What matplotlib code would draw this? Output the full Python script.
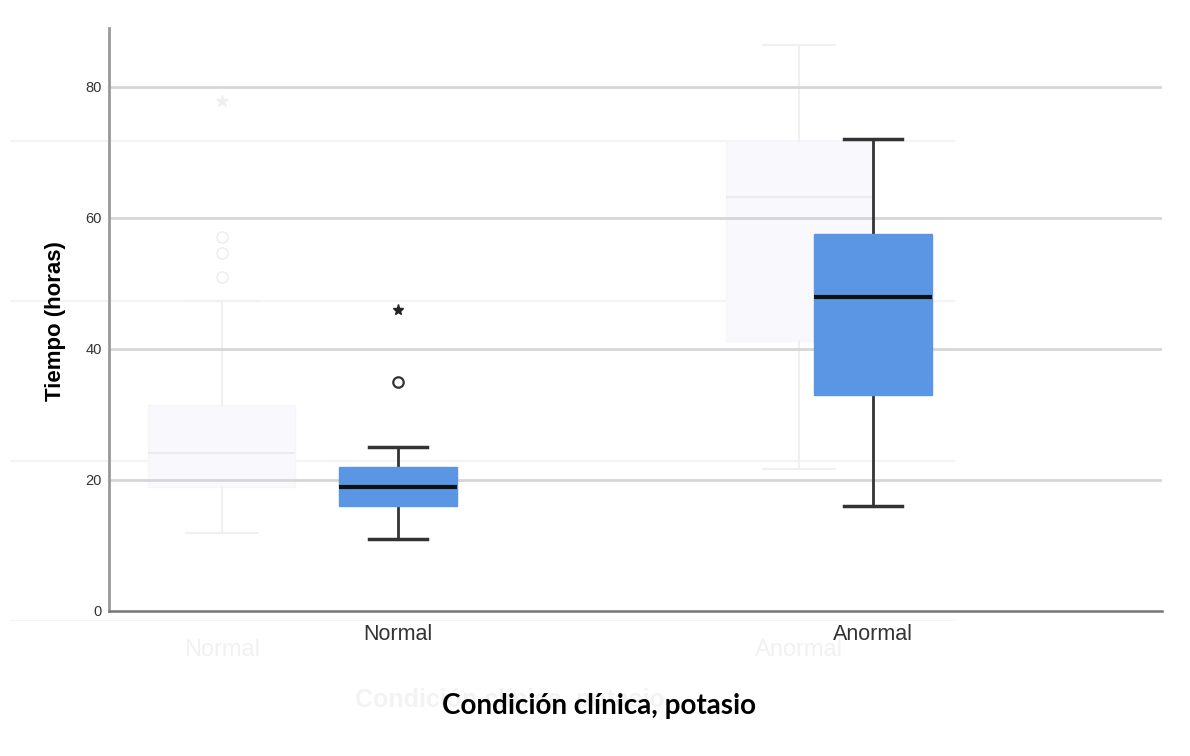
import matplotlib
matplotlib.use("Agg")
import matplotlib.pyplot as plt

# --- data ---
groups = ["Normal", "Anormal"]
whis_lo = [11, 16]
q1 = [16, 33]
median = [19, 48]
q3 = [22, 57.5]
whis_hi = [25, 72]
outliers = [[35], []]        # circles
extremes = [[46], []]        # stars
yticks = [0, 20, 40, 60, 80]

# faint ghost chart left behind in the screenshot
ghost_whis_lo = [11, 19]
ghost_q1 = [16.8, 35]
ghost_median = [21, 53]
ghost_q3 = [27, 60]
ghost_whis_hi = [40, 72]
ghost_outliers = [[43, 46, 48], []]
ghost_extremes = [[65], []]
ghost_gridvals = [0, 20, 40, 60]

W, H = 1190, 756
fig = plt.figure(figsize=(W / 100, H / 100), dpi=100)


def px_box(l, r, b, t):
    return [l / W, (H - b) / H, (r - l) / W, (b - t) / H]


# ghost axes (very faint, behind everything)
gax = fig.add_axes(px_box(10, 955, 621, 0))
gax.set_facecolor("none")
for s in gax.spines.values():
    s.set_visible(False)
for v in ghost_gridvals:
    gax.axhline(v, color="#f4f4f4", lw=1.5, zorder=0)
gstats = []
for i in range(2):
    gstats.append(dict(med=ghost_median[i], q1=ghost_q1[i], q3=ghost_q3[i],
                       whislo=ghost_whis_lo[i], whishi=ghost_whis_hi[i],
                       fliers=ghost_outliers[i]))
gax.bxp(gstats, positions=[0, 1], widths=0.255, capwidths=0.125, patch_artist=True,
        showfliers=True,
        boxprops=dict(facecolor="#f9f8fc", edgecolor="#f6f5f9", lw=1),
        medianprops=dict(color="#ececf0", lw=1.5),
        whiskerprops=dict(color="#f0f0f0", lw=1.5),
        capprops=dict(color="#f0f0f0", lw=1.5),
        flierprops=dict(marker="o", markerfacecolor="none", markeredgecolor="#eeeeee",
                        markersize=8, markeredgewidth=1.2))
for i, ys in enumerate(ghost_extremes):
    if ys:
        gax.plot([i] * len(ys), ys, "*", color="#efefef", markersize=9)
gax.set_xlim(-0.367, 1.27)
gax.set_ylim(0, 621 / 8)
gax.set_yticks([])
gax.set_xticks([0, 1])
gax.set_xticklabels(groups, fontsize=17, color="#f1f1f1", family="Liberation Sans")
gax.tick_params(axis="x", length=0, pad=13)
fig.text(510 / W, 1 - 700 / H, "Condición clínica, potasio", fontsize=18,
         fontweight="bold", color="#f3f3f3", family="Liberation Sans",
         ha="center", va="center")

# main axes
ax = fig.add_axes(px_box(109, 1162, 611, 28))
ax.set_facecolor("none")

for v in yticks[1:]:
    ax.axhline(v, color="#d6d6d6", lw=2, zorder=1)

stats = []
for i in range(2):
    stats.append(dict(med=median[i], q1=q1[i], q3=q3[i],
                      whislo=whis_lo[i], whishi=whis_hi[i], fliers=outliers[i]))
ax.bxp(stats, positions=[0, 1], widths=0.248, capwidths=0.123, patch_artist=True,
       boxprops=dict(facecolor="#5a96e4", edgecolor="#5a96e4", lw=1, zorder=3),
       medianprops=dict(color="#111111", lw=3, zorder=4),
       whiskerprops=dict(color="#333333", lw=2, zorder=2),
       capprops=dict(color="#333333", lw=2.5, zorder=2),
       flierprops=dict(marker="o", markerfacecolor="white", markeredgecolor="#333333",
                       markersize=7.5, markeredgewidth=1.6))
for i, ys in enumerate(extremes):
    if ys:
        ax.plot([i] * len(ys), ys, "*", color="#222222", markersize=8, zorder=4)

ax.set_xlim(-0.608, 1.608)
ax.set_ylim(0, 89)
for side in ["top", "right"]:
    ax.spines[side].set_visible(False)
ax.spines["left"].set_color("#999999")
ax.spines["left"].set_linewidth(2)
ax.spines["bottom"].set_color("#777777")
ax.spines["bottom"].set_linewidth(1.8)

ax.set_yticks(yticks)
ax.set_yticklabels([str(v) for v in yticks], fontsize=10.5, color="#333333",
                   family="Liberation Sans")
ax.tick_params(axis="y", length=0, pad=5)
ax.set_xticks([0, 1])
ax.set_xticklabels(groups, fontsize=15.5, color="#333333", family="Liberation Sans")
ax.tick_params(axis="x", length=0, pad=9)

fig.text(55 / W, 1 - 321 / H, "Tiempo (horas)", rotation=90, fontsize=16,
         fontweight="bold", family="Liberation Sans", ha="center", va="center")
fig.text(599 / W, 1 - 706 / H, "Condición clínica, potasio", fontsize=20,
         fontweight="bold", family="Lato", ha="center", va="center")

fig.savefig("out.png", dpi=100)
